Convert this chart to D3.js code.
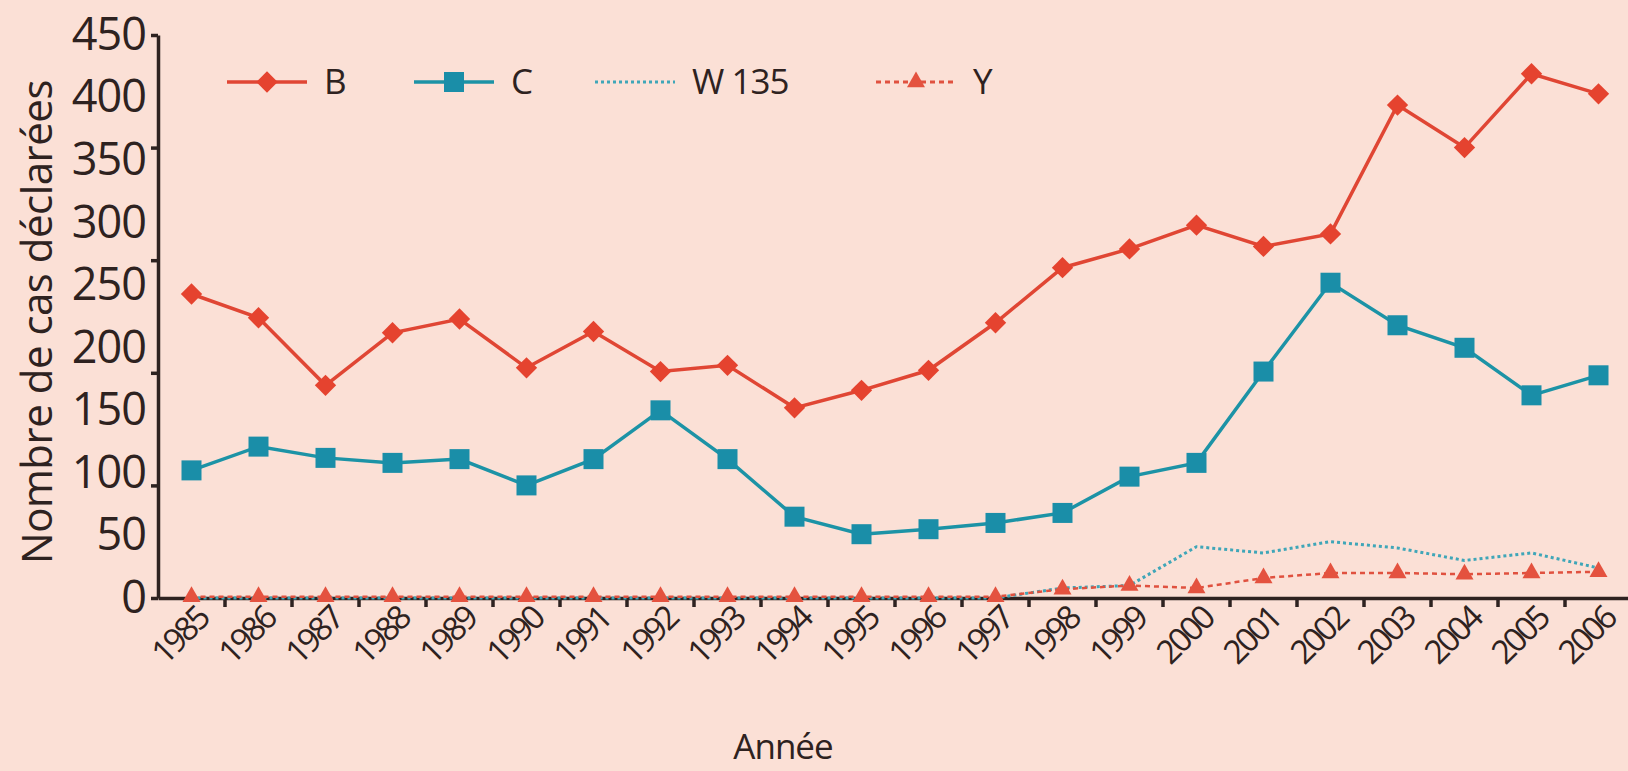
<!DOCTYPE html>
<meta charset="utf-8">
<script src="https://d3js.org/d3.v7.min.js"></script>
<style>
  body { margin: 0; background: #fbe0d6; overflow: hidden; }
  svg text { font-family: "Open Sans", sans-serif; fill: #2e2220; }
</style>
<div id="chart"></div>
<script>
// data
var years = ["1985","1986","1987","1988","1989","1990","1991","1992","1993","1994","1995",
             "1996","1997","1998","1999","2000","2001","2002","2003","2004","2005","2006"];
var serieB    = [243,224,170,212,223,184,213,181,186,152,166,182,220,264,279,298,281,291,394,360,419,403];
var serieC    = [102,121,112,108,111,90,111,150,111,65,51,55,60,68,97,108,181,252,218,200,162,178];
var serieW135 = [0,0,0,0,0,0,0,0,0,0,0,0,0,8,10,41,36,45,40,30,36,24];
var serieY    = [1,1,1,1,1,1,1,1,1,1,1,1,1,7,10,8,16,20,20,19,20,21];
var yLabels = [0,50,100,150,200,250,300,350,400,450];
var yTicks  = [0,90,180,270,360,450];

var width = 1628, height = 771;
var ink = "#2e2220";
var svg = d3.select("#chart").append("svg")
    .attr("width", width)
    .attr("height", height);

svg.append("rect").attr("width", width).attr("height", height).attr("fill", "#fbe0d6");

var x = d3.scaleBand().domain(years).range([158, 1632]).padding(0);
var y = d3.scaleLinear().domain([0, 450]).range([598, 35]);
var bw = x.bandwidth();
var cx = (d, i) => x(years[i]) + bw / 2;

// x axis, ticks sit between the years
var xAxis = svg.append("g")
    .attr("transform", "translate(0,598)")
    .call(d3.axisBottom(x).tickSize(9).tickSizeOuter(0));
xAxis.select(".domain").attr("stroke", ink).attr("stroke-width", 3.5);
xAxis.selectAll(".tick line")
    .attr("x1", bw / 2).attr("x2", bw / 2)
    .attr("stroke", ink).attr("stroke-width", 3.5);
xAxis.selectAll(".tick text")
    .attr("x", 0).attr("y", 0).attr("dy", 0)
    .attr("transform", "translate(19,23) rotate(-45)")
    .style("text-anchor", "end")
    .style("font-size", "33px")
    .style("letter-spacing", "-3px")
    .attr("fill", ink);

// y axis: tick marks and labels are not at the same step in the original
var yAxisTicks = svg.append("g")
    .attr("transform", "translate(158,0)")
    .call(d3.axisLeft(y).tickValues(yTicks).tickSize(7).tickSizeOuter(0).tickFormat(""));
yAxisTicks.select(".domain").attr("stroke", ink).attr("stroke-width", 3.5);
yAxisTicks.selectAll(".tick line").attr("stroke", ink).attr("stroke-width", 3.5);

var yAxisLabels = svg.append("g")
    .attr("transform", "translate(158,0)")
    .call(d3.axisLeft(y).tickValues(yLabels).tickSize(0).tickPadding(12));
yAxisLabels.select(".domain").remove();
yAxisLabels.selectAll(".tick text")
    .style("font-size", "45px")
    .style("letter-spacing", "-1px")
    .attr("fill", ink);

// axis titles
svg.append("text")
    .attr("transform", "translate(52,322) rotate(-90)")
    .attr("text-anchor", "middle")
    .style("font-size", "42px")
    .style("letter-spacing", "-0.5px")
    .text("Nombre de cas déclarées");

svg.append("text")
    .attr("x", 783).attr("y", 759)
    .attr("text-anchor", "middle")
    .style("font-size", "35px")
    .style("letter-spacing", "-1px")
    .text("Année");

var line = d3.line().x(cx).y(d => y(d));

// W135 dotted
svg.append("path").datum(serieW135)
    .attr("d", line).attr("fill", "none")
    .attr("stroke", "#3fa6b8").attr("stroke-width", 3).attr("stroke-dasharray", "3,3");

// Y dashed with triangles
svg.append("path").datum(serieY)
    .attr("d", line).attr("fill", "none")
    .attr("stroke", "#e0513f").attr("stroke-width", 2.5).attr("stroke-dasharray", "5,4");
svg.selectAll(".ptY").data(serieY).enter().append("path")
    .attr("transform", (d, i) => "translate(" + cx(d, i) + "," + y(d) + ")")
    .attr("d", d3.symbol().type(d3.symbolTriangle).size(140))
    .attr("fill", "#e4523f");

// C teal squares
svg.append("path").datum(serieC)
    .attr("d", line).attr("fill", "none")
    .attr("stroke", "#1c93a6").attr("stroke-width", 3.5);
svg.selectAll(".ptC").data(serieC).enter().append("rect")
    .attr("x", (d, i) => cx(d, i) - 10).attr("y", d => y(d) - 10)
    .attr("width", 20).attr("height", 20)
    .attr("fill", "#1a8ea8");

// B red diamonds
svg.append("path").datum(serieB)
    .attr("d", line).attr("fill", "none")
    .attr("stroke", "#e04634").attr("stroke-width", 3.5);
svg.selectAll(".ptB").data(serieB).enter().append("path")
    .attr("transform", (d, i) => "translate(" + cx(d, i) + "," + y(d) + ")")
    .attr("d", d3.symbol().type(d3.symbolDiamond2).size(290))
    .attr("fill", "#e5432f");

// legend
var legend = [
  {name: "B", color: "#e04634", x: 227, dash: null, mark: "diamond"},
  {name: "C", color: "#1c93a6", x: 414, dash: null, mark: "square"},
  {name: "W 135", color: "#3fa6b8", x: 595, dash: "3,3", mark: null},
  {name: "Y", color: "#e0513f", x: 876, dash: "5,4", mark: "triangle"}
];
var lg = svg.append("g").attr("transform", "translate(0,82)");
legend.forEach(function(l) {
  lg.append("line")
    .attr("x1", l.x).attr("x2", l.x + 80).attr("y1", 0).attr("y2", 0)
    .attr("stroke", l.color).attr("stroke-width", l.dash ? 3 : 3.5)
    .attr("stroke-dasharray", l.dash);
  var mx = l.x + 40;
  if (l.mark == "diamond") {
    lg.append("path").attr("transform", "translate(" + mx + ",0)")
      .attr("d", d3.symbol().type(d3.symbolDiamond2).size(290)).attr("fill", "#e5432f");
  } else if (l.mark == "square") {
    lg.append("rect").attr("x", mx - 10).attr("y", -10).attr("width", 20).attr("height", 20).attr("fill", "#1a8ea8");
  } else if (l.mark == "triangle") {
    lg.append("path").attr("transform", "translate(" + mx + ",0)")
      .attr("d", d3.symbol().type(d3.symbolTriangle).size(140)).attr("fill", "#e4523f");
  }
  lg.append("text")
    .attr("x", l.x + 97).attr("y", 12)
    .style("font-size", "35px")
    .style("letter-spacing", "-1px")
    .text(l.name);
});
</script>
